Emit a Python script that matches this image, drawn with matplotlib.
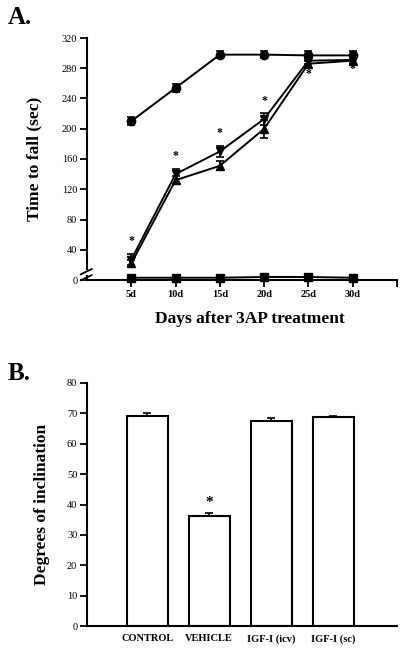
import matplotlib
matplotlib.use("Agg")
import matplotlib.pyplot as plt
import numpy as np

plt.rcParams['font.family'] = ['Liberation Serif', 'DejaVu Serif']

# ---- Panel A data ----
days = [5, 10, 15, 20, 25, 30]
day_labels = ['5d', '10d', '15d', '20d', '25d', '30d']
control = [210, 254, 298, 298, 297, 297]
control_err = [5, 5, 5, 5, 6, 6]
igf_down = [27, 140, 170, 213, 290, 291]
igf_down_err = [7, 7, 7, 8, 5, 4]
igf_up = [22, 132, 151, 200, 286, 290]
igf_up_err = [5, 5, 6, 12, 4, 4]
vehicle = [3, 3, 3, 4, 4, 3]
vehicle_err = [1, 1, 1, 1, 1, 1]
star_days = [5, 10, 15, 20, 25, 30]
star_vals = [52, 164, 195, 237, 273, 279]
yticks_a = [0, 40, 80, 120, 160, 200, 240, 280, 320]

# ---- Panel B data ----
groups = ['CONTROL', 'VEHICLE', 'IGF-I (icv)', 'IGF-I (sc)']
incl = [69.0, 36.3, 67.6, 68.8]
incl_err = [1.2, 0.9, 1.0, 0.5]
star_b_idx = 1
star_b_val = 40.8
yticks_b = [0, 10, 20, 30, 40, 50, 60, 70, 80]

W, H = 408, 657
fig = plt.figure(figsize=(W / 100, H / 100), dpi=100)

def ax_rect(l, t, r, b):
    return [l / W, 1 - b / H, (r - l) / W, (b - t) / H]

# ================= Panel A =================
ax = fig.add_axes(ax_rect(87, 38, 397, 280))
ax.set_xlim(0, 35)
ax.set_ylim(0, 320)
for s in ['top', 'right', 'left']:
    ax.spines[s].set_visible(False)
ax.spines['bottom'].set_linewidth(1.5)

# manual y spine with break
tr = ax.get_yaxis_transform()
ax.plot([0, 0], [320, 14], color='black', lw=1.5, transform=tr, clip_on=False)
ax.plot([0, 0], [5, 0], color='black', lw=1.5, transform=tr, clip_on=False)
for yb in [11, 3]:
    ax.plot([-0.02, 0.015], [yb - 3.5, yb + 3.5], color='black', lw=1.3,
            transform=tr, clip_on=False)

def series(y, e, marker, ms):
    ax.errorbar(days, y, yerr=e, color='black', lw=1.4, marker=marker, ms=ms,
                capsize=3, elinewidth=1.2, capthick=1.2, zorder=3, clip_on=False)

series(control, control_err, 'o', 6)
series(igf_down, igf_down_err, 'v', 6)
series(igf_up, igf_up_err, '^', 6)
series(vehicle, vehicle_err, 's', 5.5)

for d, v in zip(star_days, star_vals):
    ax.text(d, v, '*', ha='center', va='center', fontsize=8.5, fontweight='bold')

ax.set_xticks(days + [35])
ax.set_xticklabels(day_labels + [''], fontsize=7.5, fontweight='bold')
ax.set_yticks(yticks_a)
ax.set_yticklabels([str(v) for v in yticks_a], fontsize=7.5)
ax.tick_params(axis='both', direction='out', length=5, width=1.3, pad=2)
ax.tick_params(axis='y', left=True)

ax.set_ylabel('Time to fall (sec)', fontsize=12.5, fontweight='bold')
ax.yaxis.set_label_coords(-0.145, 0.5)
ax.set_xlabel('Days after 3AP treatment', fontsize=12.5, fontweight='bold')
ax.xaxis.set_label_coords(0.526, -0.128)
ax.xaxis.label.set_va('top')

fig.text(8 / W, 1 - 17 / H, 'A.', fontsize=18, fontweight='bold', va='center', ha='left')

# ================= Panel B =================
bx = fig.add_axes(ax_rect(87, 383, 397, 626))
x = np.arange(len(groups))
bx.bar(x, incl, width=0.66, color='white', edgecolor='black', lw=1.5, zorder=2)
bx.errorbar(x, incl, yerr=[np.zeros(len(incl)), incl_err], fmt='none',
            ecolor='black', capsize=3, elinewidth=1.2, capthick=1.2, zorder=3)
bx.text(x[star_b_idx], star_b_val, '*', ha='center', va='center', fontsize=11,
        fontweight='bold')
bx.set_xlim(-0.97, 4.03)
bx.set_ylim(0, 80)
for s in ['top', 'right']:
    bx.spines[s].set_visible(False)
for s in ['left', 'bottom']:
    bx.spines[s].set_linewidth(1.5)
bx.set_xticks(x)
bx.set_xticklabels(groups, fontsize=7.5, fontweight='bold')
bx.tick_params(axis='x', length=0, pad=6)
bx.set_yticks(yticks_b)
bx.set_yticklabels([str(v) for v in yticks_b], fontsize=7.5)
bx.tick_params(axis='y', direction='out', length=5, width=1.3, pad=2)
bx.set_ylabel('Degrees of inclination', fontsize=12.5, fontweight='bold')
bx.yaxis.set_label_coords(-0.12, 0.5)

fig.text(8 / W, 1 - 373 / H, 'B.', fontsize=18, fontweight='bold', va='center', ha='left')

fig.savefig('out.png', dpi=100)
